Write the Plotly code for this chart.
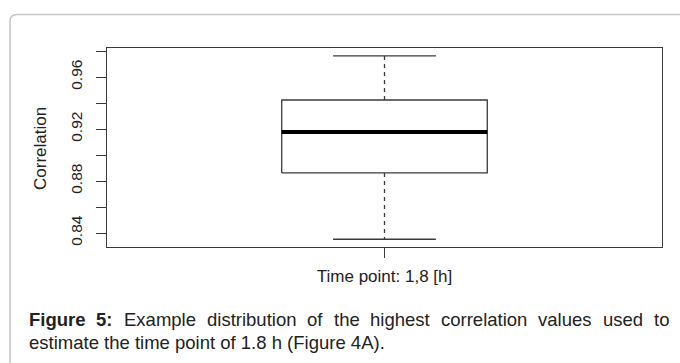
import plotly.graph_objects as go

# Five-number summary of the highest correlation values (time point 1.8 h)
box_position = [1.0]
lower_whisker = [0.8352]
first_quartile = [0.8862]
median_value = [0.9177]
third_quartile = [0.9423]
upper_whisker = [0.9762]
group_labels = ["Time point: 1,8 [h]"]

y_tick_values = [0.84, 0.86, 0.88, 0.90, 0.92, 0.94, 0.96, 0.98]
y_tick_labels = ["0.84", "", "0.88", "", "0.92", "", "0.96", ""]

caption_line1 = ["Figure", "5:", "Example", "distribution", "of", "the",
                 "highest", "correlation", "values", "used", "to"]
caption_bold_words = 2
caption_line2 = "estimate the time point of 1.8 h (Figure 4A)."

# Figure geometry (pixels)
W, H = 680, 363
ML, MR, MT, MB = 107, 18, 48, 116
PW, PH = W - ML - MR, H - MT - MB

FONT = "Liberation Sans, Arial, Helvetica, sans-serif"
LINE = "#3a3a3a"
TEXT = "#222222"
CAPTION_SIZE = 18.5


def px(x):
    return (x - ML) / PW


def py(y):
    return (H - MB - y) / PH


# Arial / Liberation Sans advance widths (1/1000 em) for justifying the caption
REGULAR = dict(a=556, b=556, c=500, d=556, e=556, g=556, h=556, i=222, l=222, m=833,
               n=556, o=556, p=556, r=333, s=500, t=278, u=556, v=500, x=500, f=278, E=667)
BOLD = {"F": 611, "i": 278, "g": 611, "u": 611, "r": 389, "e": 556, "5": 556, ":": 333}


def word_width(word, bold):
    table = BOLD if bold else REGULAR
    return sum(table.get(ch, 556) for ch in word) * CAPTION_SIZE / 1000


box_half = 0.2
cap_half = 0.1

fig = go.Figure()

for x, lo, q1, md, q3, hi in zip(box_position, lower_whisker, first_quartile,
                                 median_value, third_quartile, upper_whisker):
    # dashed whiskers
    fig.add_trace(go.Scatter(x=[x, x], y=[q3, hi], mode="lines",
                             line=dict(color=LINE, width=1.3, dash="4px,4px")))
    fig.add_trace(go.Scatter(x=[x, x], y=[q1, lo], mode="lines",
                             line=dict(color=LINE, width=1.3, dash="4px,4px")))
    # whisker caps
    for v in (lo, hi):
        fig.add_trace(go.Scatter(x=[x - cap_half, x + cap_half], y=[v, v], mode="lines",
                                 line=dict(color=LINE, width=1.3)))
    # box
    fig.add_trace(go.Scatter(x=[x - box_half, x + box_half, x + box_half, x - box_half, x - box_half],
                             y=[q1, q1, q3, q3, q1], mode="lines",
                             line=dict(color=LINE, width=1.3)))
    # median
    fig.add_trace(go.Scatter(x=[x - box_half, x + box_half], y=[md, md], mode="lines",
                             line=dict(color="#000000", width=4)))

fig.update_traces(showlegend=False, hoverinfo="skip")

fig.update_xaxes(
    range=[0.46, 1.54], showgrid=False, zeroline=False,
    showline=True, mirror=True, linecolor=LINE, linewidth=1.3,
    tickmode="array", tickvals=box_position, ticktext=group_labels,
    ticks="outside", ticklen=10, tickwidth=1.3, tickcolor=LINE,
    tickfont=dict(family=FONT, size=17, color=TEXT), ticklabelstandoff=3,
)
fig.update_yaxes(
    range=[0.82923, 0.98231], showgrid=False, zeroline=False,
    showline=True, mirror=True, linecolor=LINE, linewidth=1.3,
    tickmode="array", tickvals=y_tick_values, ticktext=y_tick_labels,
    ticks="outside", ticklen=10, tickwidth=1.3, tickcolor=LINE,
    tickangle=-90, tickfont=dict(family=FONT, size=15.5, color=TEXT),
    ticklabelstandoff=8,
)

annotations = [
    dict(text="Correlation", x=px(40), y=py(149), xref="paper", yref="paper",
         textangle=-90, showarrow=False, xanchor="center", yanchor="middle",
         font=dict(family=FONT, size=17, color=TEXT)),
]

# first caption line, justified between the left and right text margins
text_left, text_right = 27, 667
widths = [word_width(w, i < caption_bold_words) for i, w in enumerate(caption_line1)]
gap = (text_right - text_left - sum(widths)) / (len(caption_line1) - 1)
cursor = text_left
for i, (word, w) in enumerate(zip(caption_line1, widths)):
    label = f"<b>{word}</b>" if i < caption_bold_words else word
    annotations.append(dict(text=label, x=px(cursor), y=py(319), xref="paper", yref="paper",
                            showarrow=False, xanchor="left", yanchor="middle",
                            font=dict(family=FONT, size=CAPTION_SIZE, color=TEXT)))
    cursor += w + gap
annotations.append(dict(text=caption_line2, x=px(text_left), y=py(342), xref="paper", yref="paper",
                        showarrow=False, xanchor="left", yanchor="middle",
                        font=dict(family=FONT, size=CAPTION_SIZE, color=TEXT)))

# rounded panel outline
r = 7
bx0, by0 = 10, 14.5
panel_path = (f"M {px(bx0)},{py(H + 20)} L {px(bx0)},{py(by0 + r)} "
              f"Q {px(bx0)},{py(by0)} {px(bx0 + r)},{py(by0)} L {px(W + 20)},{py(by0)}")

fig.update_layout(
    width=W, height=H,
    margin=dict(l=ML, r=MR, t=MT, b=MB),
    paper_bgcolor="white", plot_bgcolor="white",
    showlegend=False,
    annotations=annotations,
    shapes=[dict(type="path", path=panel_path, xref="paper", yref="paper",
                 line=dict(color="#c4c4c4", width=1.5), layer="below")],
)

fig.write_html("out.html")
